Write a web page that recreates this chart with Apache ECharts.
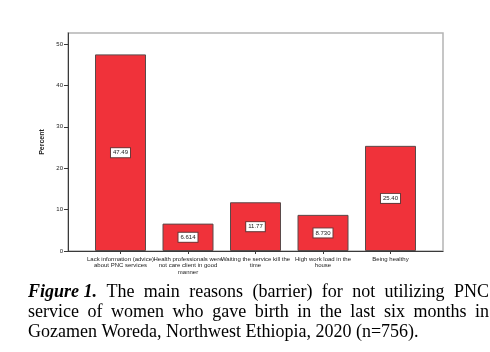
<!DOCTYPE html>
<html>
<head>
<meta charset="utf-8">
<script src="https://cdn.jsdelivr.net/npm/echarts@6/dist/echarts.min.js"></script>
<style>
  html, body { margin: 0; padding: 0; background: #fff; }
  #chart { width: 490px; height: 352px; }
</style>
</head>
<body>
<div id="chart"></div>
<script>
// Data
const categories = [
  'Lack information (advice)\nabout PNC services',
  'Health professionals were\nnot care client in good\nmanner',
  'Waiting the service kill the\ntime',
  'High work load in the\nhouse',
  'Being healthy'
];
const percents = [47.49, 6.614, 11.77, 8.730, 25.40];
const valueLabels = ['47.49', '6.614', '11.77', '8.730', '25.40'];
const yTicks = [0, 10, 20, 30, 40, 50];

const captionLines = [
  [{ text: 'Figure 1.', bold: true }, 'The', 'main', 'reasons', '(barrier)', 'for', 'not', 'utilizing', 'PNC'],
  ['service', 'of', 'women', 'who', 'gave', 'birth', 'in', 'the', 'last', 'six', 'months', 'in'],
  ['Gozamen', 'Woreda,', 'Northwest', 'Ethiopia,', '2020', '(n=756).']
];

const THEME = {
  bar: '#f0323a',
  barBorder: '#5a4a4a',
  axis: '#3a3a3a',
  frame: '#b4b4b4',
  text: '#222'
};

// Justified caption, laid out word by word
function buildCaption() {
  const ctx = document.createElement('canvas').getContext('2d');
  const fontSize = 18;
  const left = 28, right = 489, firstY = 292, lineStep = 20;
  const family = "'Liberation Serif', 'Times New Roman', serif";
  const elements = [];
  captionLines.forEach((line, li) => {
    const words = line.map(w => (typeof w === 'string' ? { text: w, bold: false } : w));
    const widths = words.map(w => {
      ctx.font = (w.bold ? 'italic bold ' : '') + fontSize + 'px ' + family;
      return ctx.measureText(w.text).width;
    });
    const total = widths.reduce((a, b) => a + b, 0);
    const isLast = li === captionLines.length - 1;
    const spaceW = (() => { ctx.font = fontSize + 'px ' + family; return ctx.measureText(' ').width; })();
    const gap = isLast ? spaceW : (right - left - total) / (words.length - 1);
    let x = left;
    words.forEach((w, i) => {
      elements.push({
        type: 'text',
        x: x,
        y: firstY + li * lineStep,
        style: {
          text: w.text,
          fill: '#000',
          font: (w.bold ? 'italic bold ' : '') + fontSize + 'px ' + family,
          textVerticalAlign: 'middle'
        }
      });
      x += widths[i] + gap;
    });
  });
  return elements;
}

const chart = echarts.init(document.getElementById('chart'), null, { renderer: 'canvas' });

const option = {
  backgroundColor: '#fff',
  animation: false,
  grid: [
    { left: 68, top: 33, width: 375, height: 218, show: true, borderColor: THEME.frame, borderWidth: 1.5, backgroundColor: 'transparent' },
    { left: 86.75, top: 33, width: 337.5, height: 218 }
  ],
  xAxis: [
    {
      type: 'value', gridIndex: 0, min: 0, max: 1,
      axisLine: { show: true, lineStyle: { color: THEME.axis, width: 1 } },
      axisTick: { show: false }, axisLabel: { show: false }, splitLine: { show: false }
    },
    {
      type: 'category', gridIndex: 1, data: categories,
      axisLine: { show: false },
      axisTick: { show: true, alignWithLabel: true, length: 3, lineStyle: { color: THEME.axis } },
      axisLabel: {
        interval: 0, margin: 5, color: THEME.text,
        fontFamily: "'Liberation Sans', Arial, sans-serif", fontSize: 6, lineHeight: 6.5
      },
      splitLine: { show: false }
    }
  ],
  yAxis: [
    {
      type: 'value', gridIndex: 0, min: 0, max: 52.66,
      name: 'Percent', nameLocation: 'middle', nameGap: 20, nameRotate: 90,
      nameTextStyle: { fontFamily: "'Liberation Sans', Arial, sans-serif", fontSize: 7, fontWeight: 'bold', color: THEME.text },
      axisLine: { show: true, lineStyle: { color: THEME.axis, width: 1 } },
      axisTick: { show: true, length: 4, customValues: yTicks, lineStyle: { color: THEME.axis } },
      axisLabel: {
        customValues: yTicks, margin: 5, color: THEME.text,
        fontFamily: "'Liberation Sans', Arial, sans-serif", fontSize: 6
      },
      splitLine: { show: false }
    },
    {
      type: 'value', gridIndex: 1, min: 0, max: 52.66, show: false
    }
  ],
  series: [
    {
      type: 'bar',
      xAxisIndex: 1, yAxisIndex: 1,
      data: percents,
      barWidth: 51,
      itemStyle: { color: THEME.bar, borderColor: THEME.barBorder, borderWidth: 1 },
      label: {
        show: true,
        position: 'inside',
        formatter: p => valueLabels[p.dataIndex],
        fontFamily: "'Liberation Sans', Arial, sans-serif",
        fontSize: 6,
        color: '#222',
        backgroundColor: '#fff',
        borderColor: '#6a3a3a',
        borderWidth: 1,
        padding: [2, 2, 1, 2]
      }
    }
  ],
  graphic: buildCaption()
};

chart.setOption(option);

window.addEventListener('resize', () => {
  chart.resize();
});
</script>
</body>
</html>
